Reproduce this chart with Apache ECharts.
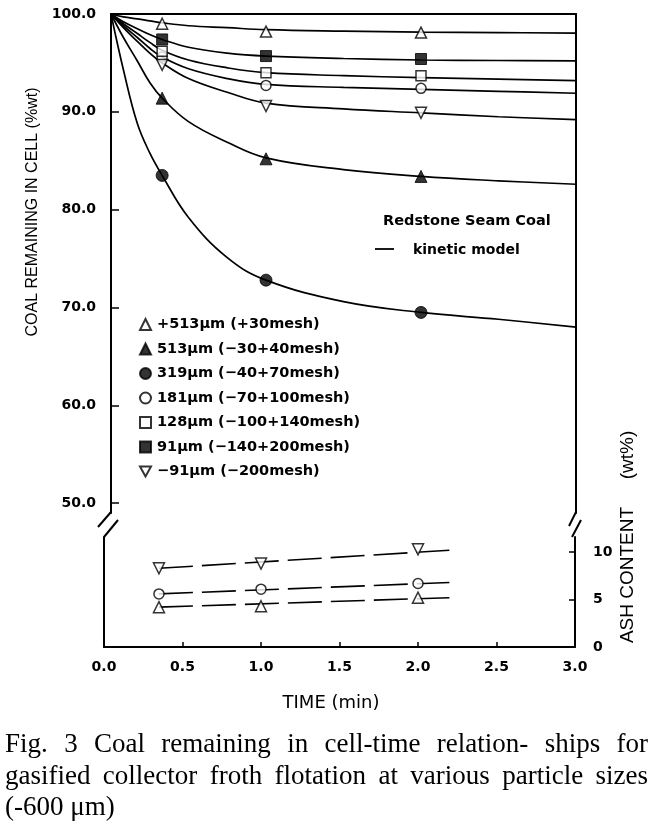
<!DOCTYPE html>
<html>
<head>
<meta charset="utf-8">
<script src="https://cdn.jsdelivr.net/npm/echarts@6/dist/echarts.min.js"></script>
<style>
html,body{margin:0;padding:0;background:#fff;}
#chart{width:652px;height:825px;}
</style>
</head>
<body>
<div id="chart"></div>
<script>
// ---------- data ----------
// kinetic-model curves (time in min, coal remaining %wt)
const curveTime     = [0, 0.08, 0.17, 0.25, 0.33, 0.5, 0.75, 1.0, 1.5, 2.0, 2.5, 3.0];
const curve513plus  = [100, 99.7, 99.5, 99.3, 99.1, 98.8, 98.6, 98.4, 98.25, 98.15, 98.1, 98.05];
const curve513      = [100, 97.6, 95.2, 93.0, 91.4, 89.0, 86.9, 85.3, 84.1, 83.4, 82.95, 82.6];
const curve319      = [100, 94.3, 88.8, 85.8, 83.5, 79.2, 75.1, 72.8, 70.6, 69.5, 68.8, 68.0];
const curve181      = [100, 98.8, 97.6, 96.5, 95.6, 94.4, 93.4, 92.8, 92.5, 92.3, 92.1, 91.9];
const curve128      = [100, 99.0, 98.0, 97.1, 96.3, 95.3, 94.5, 94.0, 93.7, 93.5, 93.35, 93.2];
const curve91       = [100, 99.2, 98.5, 97.9, 97.4, 96.6, 96.0, 95.7, 95.45, 95.3, 95.25, 95.2];
const curveMinus91  = [100, 98.6, 97.2, 96.0, 95.0, 93.4, 92.0, 90.9, 90.3, 89.9, 89.5, 89.2];

// measured points
const sampleTime    = [0.33, 1.0, 2.0];
const pts513plus    = [99.0, 98.2, 98.1];
const pts513        = [91.4, 85.2, 83.4];
const pts319        = [83.5, 72.8, 69.5];
const pts181        = [95.6, 92.7, 92.4];
const pts128        = [96.2, 94.0, 93.7];
const pts91         = [97.4, 95.7, 95.4];
const ptsMinus91    = [94.8, 90.6, 89.9];

// ash content (wt%)
const ashTime       = [0.35, 1.0, 2.0];
const ashMinus91    = [8.3, 8.8, 10.3];
const ash181        = [5.6, 6.1, 6.7];
const ash513plus    = [4.2, 4.3, 5.2];
const ashFitTime    = [0.35, 2.2];
const ashFitMinus91 = [8.3, 10.2];
const ashFit181     = [5.6, 6.8];
const ashFit513plus = [4.2, 5.2];

// labels
const sizeLabels = ['+513\u03bcm (+30mesh)', '513\u03bcm (\u221230+40mesh)', '319\u03bcm (\u221240+70mesh)',
  '181\u03bcm (\u221270+100mesh)', '128\u03bcm (\u2212100+140mesh)', '91\u03bcm (\u2212140+200mesh)', '\u221291\u03bcm (\u2212200mesh)'];
const leftTicks  = [50, 60, 70, 80, 90, 100];
const ashTicks   = [0, 5, 10];
const captionLines = [
  'Fig. 3  Coal remaining in cell-time relation- ships for',
  'gasified collector froth flotation at various particle sizes',
  '(-600 \u03bcm)'
];

// ---------- build ----------
const zip = (xs, ys) => xs.map((x, i) => [x, ys[i]]);
const BLACK = '#000';
const open = {color: '#fff', borderColor: BLACK, borderWidth: 1.5};
const filled = {color: BLACK, borderColor: BLACK, borderWidth: 1};
const invTri = 'path://M0,0 L10,0 L5,9 Z';

const groups = [
  {name: sizeLabels[0], curve: curve513plus, pts: pts513plus, symbol: 'triangle', size: 11, style: open},
  {name: sizeLabels[1], curve: curve513, pts: pts513, symbol: 'triangle', size: 12, style: filled},
  {name: sizeLabels[2], curve: curve319, pts: pts319, symbol: 'circle', size: 12, style: filled},
  {name: sizeLabels[3], curve: curve181, pts: pts181, symbol: 'circle', size: 10, style: open},
  {name: sizeLabels[4], curve: curve128, pts: pts128, symbol: 'rect', size: 10, style: open},
  {name: sizeLabels[5], curve: curve91, pts: pts91, symbol: 'rect', size: 11, style: filled},
  {name: sizeLabels[6], curve: curveMinus91, pts: ptsMinus91, symbol: invTri, size: 11, style: open}
];

const series = [];
groups.forEach((g, i) => {
  series.push({
    type: 'line', name: 'model' + i, xAxisIndex: 0, yAxisIndex: 0,
    data: zip(curveTime, g.curve), smooth: 0.4,
    showSymbol: false, symbol: 'none', silent: true, z: 2,
    lineStyle: {color: BLACK, width: 1.7}
  });
});
groups.forEach((g) => {
  series.push({
    type: 'scatter', name: g.name, xAxisIndex: 0, yAxisIndex: 0,
    data: zip(sampleTime, g.pts), symbol: g.symbol, symbolSize: g.size,
    itemStyle: g.style, z: 5
  });
});
const ashSets = [
  {fit: ashFitMinus91, pts: ashMinus91, symbol: invTri, size: 11},
  {fit: ashFit181, pts: ash181, symbol: 'circle', size: 10},
  {fit: ashFit513plus, pts: ash513plus, symbol: 'triangle', size: 11}
];
ashSets.forEach((a, i) => {
  series.push({
    type: 'line', name: 'ashfit' + i, xAxisIndex: 1, yAxisIndex: 2,
    data: zip(ashFitTime, a.fit), symbol: 'none', silent: true, z: 2,
    lineStyle: {color: BLACK, width: 1.6, type: [34, 9]}
  });
  series.push({
    type: 'scatter', name: 'ash' + i, xAxisIndex: 1, yAxisIndex: 2,
    data: zip(ashTime, a.pts), symbol: a.symbol, symbolSize: a.size,
    itemStyle: open, z: 5
  });
});

const tickFont = {fontFamily: 'DejaVu Sans', fontWeight: 'bold', fontSize: 14, color: BLACK};
const axisLine = {show: true, onZero: false, lineStyle: {color: BLACK, width: 2}};

// caption: justified lines built from word widths
const measure = document.createElement('canvas').getContext('2d');
const capFont = '27px "Liberation Serif"';
measure.font = capFont;
const capLeft = 5, capRight = 648, capY = [745, 777, 808];
const graphics = [];
captionLines.forEach((line, li) => {
  const words = line.split(/\s+/);
  if (li === captionLines.length - 1) {
    graphics.push({type: 'text', x: capLeft, y: capY[li],
      style: {text: line, font: capFont, fill: BLACK, textAlign: 'left', textVerticalAlign: 'middle'}});
    return;
  }
  const widths = words.map(w => measure.measureText(w).width);
  const total = widths.reduce((a, b) => a + b, 0);
  const gap = (capRight - capLeft - total) / (words.length - 1);
  let x = capLeft;
  words.forEach((w, wi) => {
    graphics.push({type: 'text', x: x, y: capY[li],
      style: {text: w, font: capFont, fill: BLACK, textAlign: 'left', textVerticalAlign: 'middle'}});
    x += widths[wi] + gap;
  });
});

// titles and annotations
graphics.push(
  {type: 'text', x: 33, y: 212, rotation: Math.PI / 2,
   style: {text: 'COAL REMAINING IN CELL (%wt)', font: '16px "Liberation Sans"', fill: BLACK, textAlign: 'center', textVerticalAlign: 'middle'}},
  {type: 'text', x: 628, y: 575, rotation: Math.PI / 2,
   style: {text: 'ASH CONTENT', font: '19px "Liberation Sans"', fill: BLACK, textAlign: 'center', textVerticalAlign: 'middle'}},
  {type: 'text', x: 628, y: 455, rotation: Math.PI / 2,
   style: {text: '(wt%)', font: '19px "Liberation Sans"', fill: BLACK, textAlign: 'center', textVerticalAlign: 'middle'}},
  {type: 'text', x: 331, y: 703,
   style: {text: 'TIME (min)', font: '18px "DejaVu Sans"', fill: BLACK, textAlign: 'center', textVerticalAlign: 'middle'}},
  {type: 'text', x: 383, y: 221,
   style: {text: 'Redstone Seam Coal', font: 'bold 14.5px "DejaVu Sans"', fill: BLACK, textAlign: 'left', textVerticalAlign: 'middle'}},
  {type: 'text', x: 413, y: 250,
   style: {text: 'kinetic model', font: 'bold 14px "DejaVu Sans"', fill: BLACK, textAlign: 'left', textVerticalAlign: 'middle'}},
  {type: 'line', shape: {x1: 375, y1: 249, x2: 394, y2: 249}, style: {stroke: BLACK, lineWidth: 1.8}},
  // axis break marks
  {type: 'line', shape: {x1: 111, y1: 512, x2: 98, y2: 527}, style: {stroke: BLACK, lineWidth: 2}},
  {type: 'line', shape: {x1: 118, y1: 520, x2: 104, y2: 537}, style: {stroke: BLACK, lineWidth: 2}},
  {type: 'line', shape: {x1: 576, y1: 512, x2: 569, y2: 526}, style: {stroke: BLACK, lineWidth: 2}},
  {type: 'line', shape: {x1: 581, y1: 520, x2: 572, y2: 537}, style: {stroke: BLACK, lineWidth: 2}}
);

const option = {
  animation: false,
  backgroundColor: '#fff',
  grid: [
    {left: 111, top: 14, width: 465, height: 499},
    {left: 104, top: 537, width: 471, height: 110}
  ],
  xAxis: [
    {gridIndex: 0, type: 'value', min: 0, max: 3, position: 'top', axisLine: axisLine,
     axisTick: {show: false}, axisLabel: {show: false}, splitLine: {show: false}},
    {gridIndex: 1, type: 'value', min: 0, max: 3, interval: 0.5, position: 'bottom', axisLine: axisLine,
     axisTick: {show: true, inside: true, length: 5, lineStyle: {color: BLACK, width: 1.5}},
     axisLabel: Object.assign({margin: 13, formatter: v => v.toFixed(1)}, tickFont), splitLine: {show: false}}
  ],
  yAxis: [
    {gridIndex: 0, type: 'value', min: 49, max: 100, position: 'left', axisLine: axisLine,
     axisTick: {show: true, inside: true, length: 8, customValues: leftTicks, lineStyle: {color: BLACK, width: 1.5}},
     axisLabel: Object.assign({margin: 15, customValues: leftTicks, formatter: v => v.toFixed(1)}, tickFont),
     splitLine: {show: false}},
    {gridIndex: 0, type: 'value', min: 49, max: 100, position: 'right', axisLine: axisLine,
     axisTick: {show: false}, axisLabel: {show: false}, splitLine: {show: false}},
    {gridIndex: 1, type: 'value', min: 0, max: 11.6, position: 'left', axisLine: axisLine,
     axisTick: {show: false}, axisLabel: {show: false}, splitLine: {show: false}},
    {gridIndex: 1, type: 'value', min: 0, max: 11.6, position: 'right', axisLine: axisLine,
     axisTick: {show: true, inside: true, length: 6, customValues: [5, 10], lineStyle: {color: BLACK, width: 1.5}},
     axisLabel: Object.assign({margin: 18, customValues: ashTicks, formatter: v => String(v)}, tickFont),
     splitLine: {show: false}}
  ],
  legend: {
    orient: 'vertical', left: 134, top: 312, itemWidth: 11, itemHeight: 11, itemGap: 9.5,
    selectedMode: false, data: sizeLabels,
    textStyle: {fontFamily: 'DejaVu Sans', fontWeight: 'bold', fontSize: 14.5, lineHeight: 14, color: BLACK, padding: [0, 0, 0, 1]}
  },
  graphic: graphics,
  series: series
};

const chart = echarts.init(document.getElementById('chart'), null, {renderer: 'canvas'});
chart.setOption(option);
</script>
</body>
</html>
